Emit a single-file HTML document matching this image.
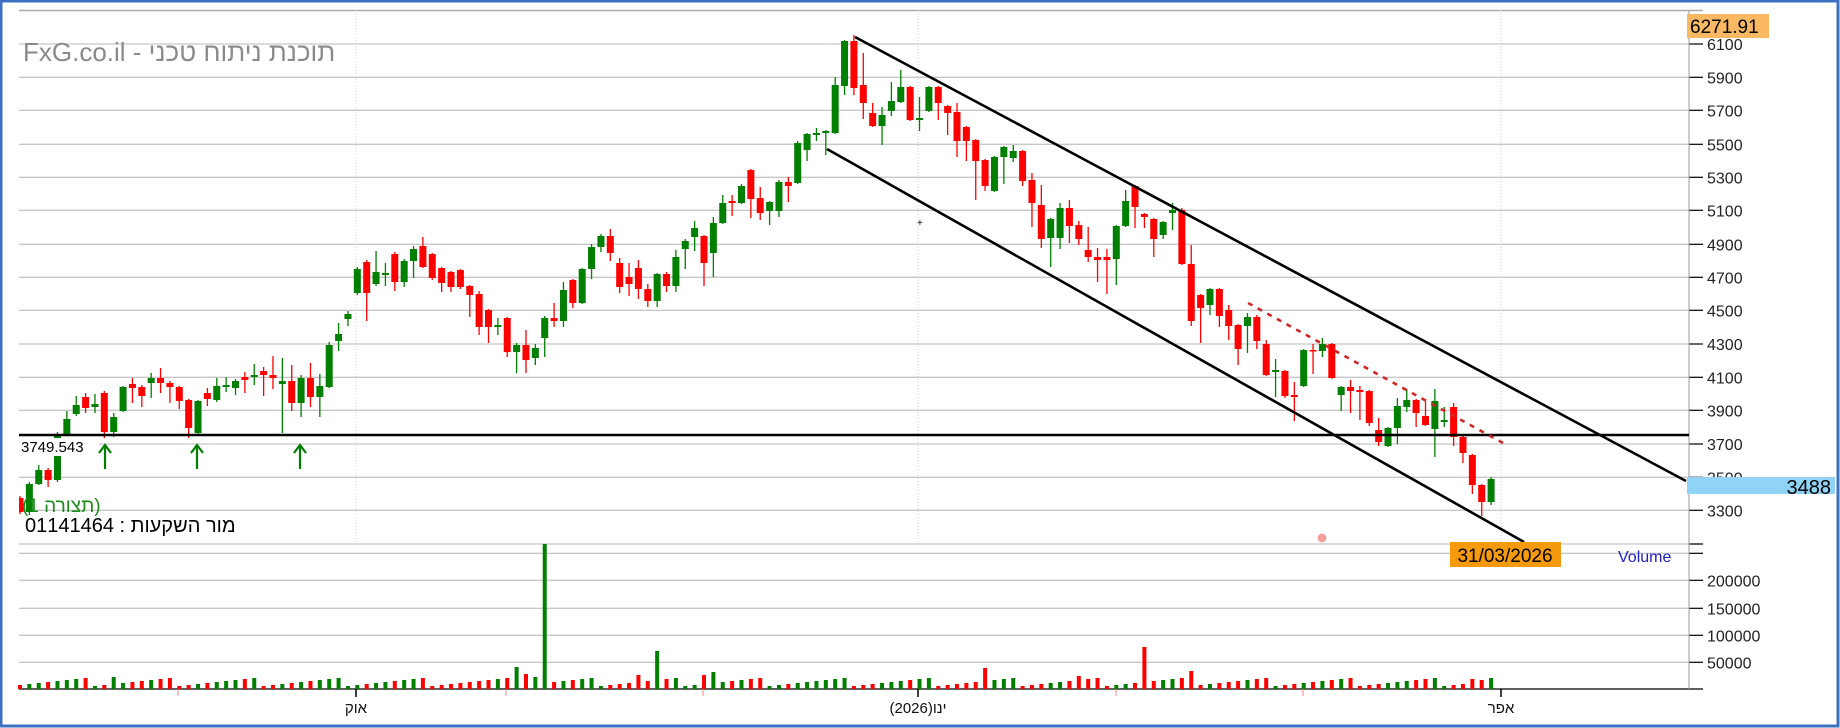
<!DOCTYPE html>
<html><head><meta charset="utf-8">
<style>
html,body{margin:0;padding:0;background:#fff;}
#wrap{position:relative;width:1840px;height:728px;overflow:hidden;background:#fff;}
svg text{font-family:"Liberation Sans","Noto Sans CJK JP",sans-serif;}
</style></head>
<body><div id="wrap">
<svg id="s" width="1840" height="728" viewBox="0 0 1840 728" xmlns="http://www.w3.org/2000/svg"></svg>
</div>
<script>
const NS="http://www.w3.org/2000/svg";
const s=document.getElementById('s');
function el(t,a,txt){const e=document.createElementNS(NS,t);for(const k in a)e.setAttribute(k,a[k]);if(txt!==undefined)e.textContent=txt;s.appendChild(e);return e;}
el('rect',{x:1,y:1,width:1837,height:725,fill:'#fff',stroke:'#3c70c2','stroke-width':3});
const py=[44,77.3,110.3,144.3,177.3,210.3,244.3,277.3,310.3,344,377.3,410.3,444,477.3,510.3];
const pl=[6100,5900,5700,5500,5300,5100,4900,4700,4500,4300,4100,3900,3700,3500,3300];
el('line',{x1:19,y1:10.5,x2:1703,y2:10.5,stroke:'#aaa','stroke-width':1.5});
py.forEach((y,i)=>{el('line',{x1:19,y1:y,x2:1689,y2:y,stroke:'#c8c8c8','stroke-width':1.3});
 el('line',{x1:1689,y1:y,x2:1703,y2:y,stroke:'#000','stroke-width':1.2});
 el('text',{x:1707,y:y+6,'font-size':16,fill:'#222'},pl[i]);});
el('line',{x1:19,y1:544,x2:1703,y2:544,stroke:'#c8c8c8','stroke-width':1.3});
el('line',{x1:1689,y1:544,x2:1703,y2:544,stroke:'#000','stroke-width':1.2});
const vy=[553.3,580.3,608.3,635.3,662.3];const vl=['','200000','150000','100000','50000'];
vy.forEach((y,i)=>{el('line',{x1:19,y1:y,x2:1689,y2:y,stroke:'#c8c8c8','stroke-width':1.3});
 el('line',{x1:1689,y1:y,x2:1703,y2:y,stroke:'#000','stroke-width':1.2});
 if(vl[i])el('text',{x:1707,y:y+6,'font-size':16,fill:'#222'},vl[i]);});
el('line',{x1:19,y1:689,x2:1703,y2:689,stroke:'#000','stroke-width':1.2});
el('line',{x1:1689,y1:10,x2:1689,y2:689,stroke:'#999','stroke-width':1});
[356,918,1501].forEach(x=>el('line',{x1:x,y1:10,x2:x,y2:544,stroke:'#ccc','stroke-width':1,'stroke-dasharray':'1,2'}));
[356,918,1501].forEach(x=>el('line',{x1:x,y1:689,x2:x,y2:697,stroke:'#000','stroke-width':1.5}));
[178,506,703,1116,1303].forEach(x=>el('line',{x1:x,y1:689,x2:x,y2:696,stroke:'#e88','stroke-width':1}));
el('text',{x:356,y:713,'font-size':15,'text-anchor':'middle',fill:'#111'},'אוק');
el('text',{x:918,y:713,'font-size':15,'text-anchor':'middle',fill:'#111',direction:'ltr'},'ינו(2026)');
el('text',{x:1501,y:713,'font-size':15,'text-anchor':'middle',fill:'#111'},'אפר');
const C=`1 r 498 512 496 514
2 g 484 512 482 515
3 g 470 484 465 485
4 r 470 480 468 487
5 g 434 480 432 482
6 g 419 435 411 436
7 g 405 414 396 416
8 r 397 408 393 413
9 g 404 407 394 413
10 r 393 432 391 438
11 g 417 432 413 437
12 g 387 411 386 412
13 r 384 388 378 403
14 r 387 396 385 407
15 g 378 383 373 398
16 r 378 383 368 393
17 r 383 387 381 403
18 r 387 401 386 409
19 r 400 428 399 438
20 g 401 433 400 434
21 r 393 399 388 406
22 g 386 400 378 402
23 g 385 387 377 392
24 g 381 388 379 395
25 r 377 380 372 393
26 g 375 377 364 385
27 r 371 375 367 396
28 r 375 378 356 389
29 g 381 384 358 433
30 r 381 403 365 411
31 g 378 403 375 417
32 r 378 397 363 407
33 g 386 397 374 417
34 g 345 387 342 388
35 g 334 341 323 351
36 g 314 319 311 326
37 g 269 293 267 295
38 r 262 293 260 321
39 g 272 284 251 286
40 g 273 275 263 286
41 r 254 282 252 291
42 g 261 282 259 287
43 g 249 261 246 278
44 r 246 267 237 268
45 r 254 278 253 280
46 r 268 283 267 292
47 r 272 287 271 292
48 r 270 287 269 289
49 r 286 295 285 317
50 r 294 327 291 335
51 r 310 327 309 343
52 g 325 327 318 335
53 r 318 352 317 357
54 g 345 352 343 373
55 r 345 360 330 373
56 g 348 358 344 365
57 g 318 338 316 357
58 r 318 321 303 327
59 g 290 321 282 327
60 r 280 303 279 308
61 g 269 303 268 304
62 g 247 269 244 279
63 g 236 247 234 252
64 r 236 253 229 261
65 r 263 287 258 293
66 r 277 284 263 296
67 r 268 289 260 299
68 r 289 301 284 307
69 g 274 301 273 307
70 r 274 286 272 292
71 g 257 286 250 292
72 g 241 249 239 269
73 g 228 237 221 251
74 r 236 263 235 286
75 g 223 253 217 277
76 g 203 223 195 224
77 r 201 203 195 216
78 g 186 203 184 204
79 r 170 199 169 218
80 r 198 213 187 220
81 g 202 211 201 225
82 g 182 211 180 217
83 r 182 186 177 202
84 g 143 183 141 184
85 g 134 150 133 161
86 g 133 135 128 141
87 g 131 133 130 155
88 g 85 133 77 134
89 g 41 86 40 95
90 r 41 88 35 95
91 r 85 103 53 119
92 r 113 126 103 127
93 g 115 126 107 145
94 g 101 111 82 116
95 g 87 102 70 103
96 r 87 120 86 121
97 g 118 120 97 131
98 g 87 111 86 112
99 r 87 103 86 120
100 r 106 113 105 135
101 r 112 141 103 157
102 r 127 141 126 161
103 r 140 161 139 200
104 r 160 186 159 191
105 g 157 191 156 192
106 g 147 157 146 184
107 g 151 158 145 162
108 r 151 181 150 186
109 r 180 203 173 227
110 r 205 239 185 248
111 g 219 238 218 267
112 g 208 238 203 249
113 r 208 226 200 243
114 r 225 239 221 245
115 r 250 257 227 262
116 r 257 260 248 282
117 r 257 260 249 294
118 g 226 259 225 285
119 g 201 226 190 227
120 r 186 207 185 228
121 r 214 217 213 228
122 r 219 239 218 257
123 g 222 235 221 239
124 g 210 213 203 230
125 r 210 264 208 265
126 r 264 321 245 326
127 r 295 308 294 343
128 g 289 305 288 315
129 r 289 316 288 327
130 r 310 326 305 340
131 r 325 349 324 365
132 g 317 326 313 353
133 r 317 341 315 349
134 r 344 375 340 376
135 g 370 372 359 397
136 r 371 396 370 398
137 r 395 397 382 421
138 g 350 386 349 387
139 r 350 351 344 374
140 g 344 351 338 357
141 r 344 378 343 379
142 g 387 395 386 411
143 r 387 391 380 413
144 r 390 392 386 420
145 r 391 423 390 426
146 r 430 442 418 446
147 g 428 446 427 447
148 g 406 428 398 444
149 g 400 407 389 412
150 r 400 413 399 427
151 r 416 425 401 426
152 g 401 429 389 457
153 g 420 422 407 427
154 r 407 437 403 446
155 r 437 453 436 463
156 r 455 485 454 494
157 r 485 502 484 516
158 g 479 502 477 505`;
const G='#007f00',R='#ff0000';
const vo={11:12,54:22,55:15,56:12,57:145,67:14,69:38,74:14,75:17,104:21,114:13,121:42,126:18,156:10,157:9,158:11};
C.split('\n').forEach(line=>{const p=line.trim().split(/\s+/);const i=+p[0],col=p[1]=='g'?G:R;
 const t=+p[2],b=+p[3],h=+p[4],l=+p[5];const x=20+(i-1)*9.37;
 el('line',{x1:x,y1:h,x2:x,y2:l,stroke:col,'stroke-width':1.3});
 const bh=Math.max(b-t,1.5);
 el('rect',{x:Math.max(x-3.5,19),y:t,width:x-3.5<19?x+3.5-19:7,height:bh,fill:col});
 let vh=vo[i]||(3+((i*37)%9));
 el('rect',{x:x-2,y:689-vh,width:4,height:vh,fill:col});
});
el('line',{x1:19,y1:435,x2:1689,y2:435,stroke:'#000','stroke-width':2.6});
el('rect',{x:19,y:438,width:80,height:18,fill:'#fff'});
el('text',{x:21,y:452,'font-size':15,fill:'#000','font-family':'Liberation Serif,serif'},'3749.543');
[105,197,300].forEach(x=>{el('line',{x1:x,y1:446,x2:x,y2:469,stroke:'#007f00','stroke-width':2.2});
 el('polyline',{points:`${x-6},${453} ${x},${445} ${x+6},${453}`,fill:'none',stroke:'#007f00','stroke-width':2.2});});
el('line',{x1:855,y1:37,x2:1686,y2:481,stroke:'#000','stroke-width':2.6});
el('line',{x1:827,y1:149,x2:1524,y2:542,stroke:'#000','stroke-width':2.6});
el('line',{x1:1248,y1:303,x2:1503,y2:443,stroke:'#d02828','stroke-width':2.6,'stroke-dasharray':'5,6'});
el('text',{x:917,y:226,'font-size':10,fill:'#000'},'+');
el('circle',{cx:1322,cy:538,r:4.5,fill:'#f5a0a0'});
el('text',{x:23,y:61,'font-size':26,fill:'#8a8a8a',direction:'ltr'},'FxG.co.il - תוכנת ניתוח טכני');
el('text',{x:22,y:512,'font-size':19,fill:'#1a8a1a'},'(תצורה 1)');
const t2=el('text',{x:25,y:532,'font-size':20,fill:'#000'});
t2.textContent='01141464 : מור השקעות';
t2.setAttribute('direction','ltr');
el('rect',{x:1687,y:14,width:82,height:24,fill:'#f9b862'});
el('text',{x:1690,y:33,'font-size':19,fill:'#000'},'6271.91');
el('rect',{x:1687,y:477,width:148,height:17,fill:'#8fd3f7'});
el('text',{x:1831,y:494,'font-size':20,fill:'#000','text-anchor':'end','font-family':'Liberation Serif,serif'},'3488');
el('rect',{x:1450,y:542,width:111,height:25,fill:'#f59a0c'});
el('text',{x:1505,y:562,'font-size':19,fill:'#000','text-anchor':'middle'},'31/03/2026');
el('text',{x:1618,y:562,'font-size':16,fill:'#2020c8'},'Volume');
</script>
</body></html>
